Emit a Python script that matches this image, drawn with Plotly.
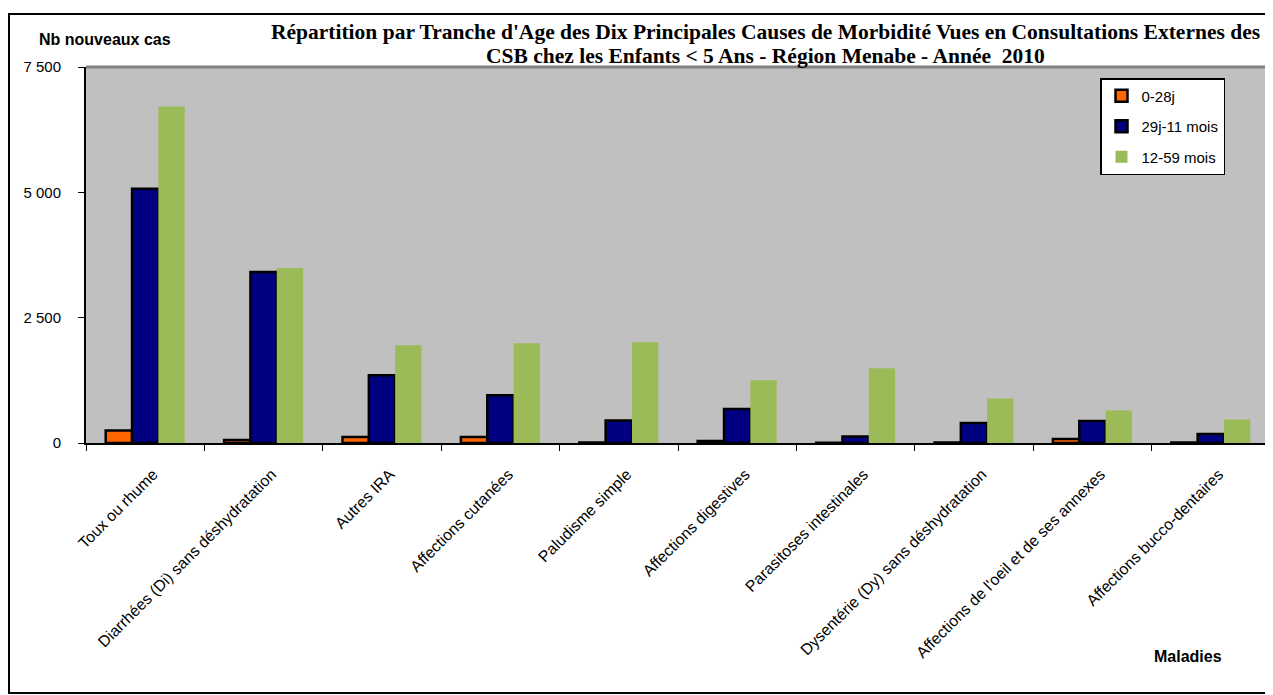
import plotly.graph_objects as go

categories = [
    "Toux ou rhume",
    "Diarrhées (Di) sans déshydratation",
    "Autres IRA",
    "Affections cutanées",
    "Paludisme simple",
    "Affections digestives",
    "Parasitoses intestinales",
    "Dysentérie (Dy) sans déshydratation",
    "Affections de l'oeil et de ses annexes",
    "Affections bucco-dentaires",
]
series_names = ["0-28j", "29j-11 mois", "12-59 mois"]
vals_0_28j = [250, 60, 120, 120, 10, 40, 5, 10, 80, 10]
vals_29j_11m = [5070, 3410, 1350, 950, 450, 680, 130, 400, 440, 180]
vals_12_59m = [6710, 3490, 1950, 1990, 2010, 1250, 1490, 890, 650, 470]
y_ticks = [0, 2500, 5000, 7500]

# the page has an 8px body margin, so the figure is laid out in
# page coordinates minus 8
OFF = 8
W, H = 1273 - OFF, 695 - OFF
ML, MR, MT, MB = 86 - OFF, 3, 67 - OFF, 252
PW = W - ML - MR
PH = H - MT - MB


def px(x):
    return (x - OFF - ML) / PW


def py(y):
    return (H - MB - (y - OFF)) / PH


fig = go.Figure()
colors = ["#FF6600", "#000080", "#9BBB59"]
borders = [2.5, 2.5, 0]
for name, vals, c, bw, g in zip(series_names, [vals_0_28j, vals_29j_11m, vals_12_59m], colors, borders, ["a", "b", "c"]):
    fig.add_trace(go.Bar(
        x=categories, y=vals, name=name, legendgroup=g,
        marker=dict(color=c, line=dict(color="black", width=bw)),
    ))

fig.update_layout(
    width=W, height=H,
    margin=dict(l=ML, r=MR, t=MT, b=MB),
    paper_bgcolor="white",
    plot_bgcolor="#C0C0C0",
    barmode="group",
    bargap=0.333,
    bargroupgap=0,
    separators=", ",
    font=dict(family="Liberation Sans, Arial", size=14, color="black"),
    showlegend=True,
    legend=dict(
        x=px(1100), y=py(78), xanchor="left", yanchor="top",
        bgcolor="white", bordercolor="black", borderwidth=1.5,
        font=dict(family="Liberation Sans, Arial", size=15, color="black"),
        tracegroupgap=8, traceorder="grouped", itemwidth=30,
    ),
    xaxis=dict(
        type="category", tickangle=-45, showgrid=False,
        showline=True, linecolor="black", linewidth=2,
        ticks="outside", tickson="boundaries", ticklen=6, tickcolor="black",
        tickfont=dict(size=15.8), ticklabelstandoff=14, ticklabelshift=8,
        fixedrange=True,
    ),
    yaxis=dict(
        range=[0, 7500], tickvals=y_ticks, tickformat=",d",
        showgrid=False, zeroline=False,
        showline=True, linecolor="black", linewidth=2,
        ticks="outside", ticklen=6, tickcolor="black",
        tickfont=dict(size=15), ticklabelstandoff=14,
    ),
)

title_lines = [
    "Répartition par Tranche d'Age des Dix Principales Causes de Morbidité Vues en Consultations Externes des",
    "CSB chez les Enfants &lt; 5 Ans - Région Menabe - Année  2010",
]
for line, yy in zip(title_lines, [32, 56]):
    fig.add_annotation(
        x=px(765), y=py(yy), xref="paper", yref="paper",
        text="<b>" + line + "</b>",
        showarrow=False, xanchor="center", yanchor="middle",
        font=dict(family="Liberation Serif, Times New Roman", size=21.5, color="black"),
    )
fig.add_annotation(
    x=px(105), y=py(40), xref="paper", yref="paper",
    text="<b>Nb nouveaux cas</b>", showarrow=False,
    xanchor="center", yanchor="middle",
    font=dict(family="Liberation Sans, Arial", size=16, color="black"),
)
fig.add_annotation(
    x=px(1188), y=py(656), xref="paper", yref="paper",
    text="<b>Maladies</b>", showarrow=False,
    xanchor="center", yanchor="middle",
    font=dict(family="Liberation Sans, Arial", size=16, color="black"),
)

# outer frame
fig.add_shape(type="rect", xref="paper", yref="paper",
              x0=px(9), x1=px(1271), y0=py(693), y1=py(14),
              line=dict(color="black", width=2), fillcolor="rgba(0,0,0,0)")
# plot area border (gray top/right)
fig.add_shape(type="line", xref="paper", yref="paper",
              x0=0, x1=1, y0=1, y1=1, line=dict(color="#808080", width=3))
fig.add_shape(type="line", xref="paper", yref="paper",
              x0=1, x1=1, y0=0, y1=1, line=dict(color="#808080", width=2))

fig.write_html("out.html")
